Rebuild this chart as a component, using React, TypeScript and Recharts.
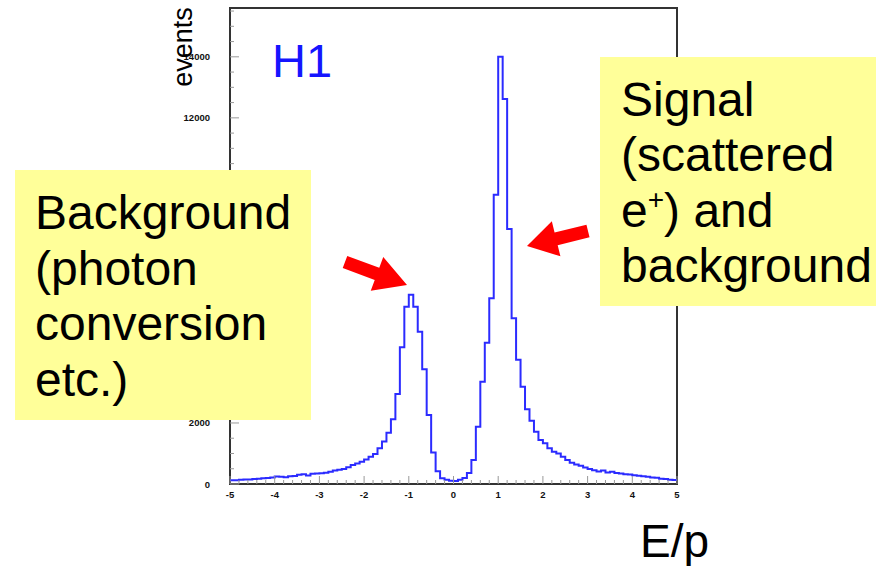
import { ComposedChart, Line, XAxis, YAxis, ReferenceArea } from 'recharts';

// E/p histogram, 100 bins of 0.1 from -5 to 5
const binStart = -5;
const binWidth = 0.1;

const leftTail = [
  120, 125, 140, 145, 150, 165, 175, 190, 200, 210,
  245, 240, 220, 255, 265, 300, 320, 280, 340, 345,
  350, 365, 400, 440, 470, 490, 545, 620, 670, 730,
];
const leftPeak = [
  800, 895, 985, 1170, 1390, 1680, 2120, 2950, 4480, 5810,
  6200, 5810, 4990, 3760, 2260, 1030, 420, 190, 140, 110,
];
const rightPeak = [
  100, 140, 200, 360, 790, 1880, 3350, 4630, 6090, 9480,
  14000, 12620, 8360, 5430, 4070, 3190, 2450, 2075, 1715, 1445,
];
const rightTail = [
  1335, 1170, 1060, 1000, 895, 787, 700, 640, 600, 540,
  490, 450, 410, 440, 380, 400, 360, 345, 320, 310,
  285, 270, 250, 240, 215, 205, 175, 160, 140, 130,
];

const xTicks = Array.from({ length: 51 }, (_, i) => Math.round((-5 + i * 0.2) * 10) / 10);
const yTicks = Array.from({ length: 32 }, (_, i) => i * 500);
// only these y labels are visible; the others sit behind the yellow box
const yLabels = [0, 2000, 12000, 14000];

const counts = [...leftTail, ...leftPeak, ...rightPeak, ...rightTail];
const data = counts.map((count, i) => ({
  x: Math.round((binStart + i * binWidth) * 10) / 10,
  count,
}));
data.push({ x: 5, count: counts[counts.length - 1] });

const tickFont = "'Liberation Sans Narrow', 'Liberation Sans', Arial, sans-serif";
const mainFont = "'Liberation Sans', Arial, Helvetica, sans-serif";

function XTick(props: any) {
  const { x, y, payload } = props;
  const axisY = y - 10;
  const major = Number.isInteger(payload.value);
  return (
    <g>
      <line x1={x} x2={x} y1={axisY} y2={axisY - (major ? 8 : 4)} stroke="#999" strokeWidth={1} />
      {major && (
        <text x={x} y={axisY + 14} textAnchor="middle" fontSize={9.5} fontWeight="bold" fontFamily={tickFont} fill="#111">
          {payload.value}
        </text>
      )}
    </g>
  );
}

function YTick(props: any) {
  const { x, y, payload } = props;
  const axisX = x + 10;
  const major = payload.value % 2000 === 0;
  return (
    <g>
      <line x1={axisX} x2={axisX + (major ? 9 : 4)} y1={y} y2={y} stroke="#999" strokeWidth={1} />
      {yLabels.includes(payload.value) && (
        <text x={axisX - 20} y={y + 3.5} textAnchor="end" fontSize={9.5} fontWeight="bold" fontFamily={tickFont} fill="#111">
          {payload.value}
        </text>
      )}
    </g>
  );
}

type Pt = [number, number];

function arrowPoints(tail: Pt, tip: Pt, shaftW: number, headL: number, headW: number) {
  const dx = tip[0] - tail[0];
  const dy = tip[1] - tail[1];
  const len = Math.hypot(dx, dy);
  const ux = dx / len;
  const uy = dy / len;
  const nx = -uy;
  const ny = ux;
  const bx = tip[0] - ux * headL;
  const by = tip[1] - uy * headL;
  const pts: Pt[] = [
    [tail[0] + (nx * shaftW) / 2, tail[1] + (ny * shaftW) / 2],
    [bx + (nx * shaftW) / 2, by + (ny * shaftW) / 2],
    [bx + (nx * headW) / 2, by + (ny * headW) / 2],
    tip,
    [bx - (nx * headW) / 2, by - (ny * headW) / 2],
    [bx - (nx * shaftW) / 2, by - (ny * shaftW) / 2],
    [tail[0] - (nx * shaftW) / 2, tail[1] - (ny * shaftW) / 2],
  ];
  return pts.map((p) => p.join(',')).join(' ');
}

export default function App() {
  return (
    <div style={{ position: 'absolute', left: 0, top: 0, width: 890, height: 566, background: '#fff' }}>
      <ComposedChart
        width={890}
        height={566}
        data={data}
        margin={{ top: 8, right: 213, bottom: 52, left: 170 }}
      >
        <XAxis
          type="number"
          dataKey="x"
          domain={[-5, 5]}
          ticks={xTicks}
          interval={0}
          height={30}
          tickSize={0}
          tickMargin={10}
          tickLine={false}
          axisLine={false}
          tick={<XTick />}
        />
        <YAxis
          type="number"
          domain={[0, 15600]}
          ticks={yTicks}
          interval={0}
          width={60}
          tickSize={0}
          tickMargin={10}
          tickLine={false}
          axisLine={false}
          tick={<YTick />}
        />
        <ReferenceArea x1={-5} x2={5} y1={0} y2={15600} fill="none" stroke="#333" strokeWidth={2} />
        <Line
          type="stepAfter"
          dataKey="count"
          stroke="#2b2bff"
          strokeWidth={2}
          dot={false}
          isAnimationActive={false}
        />
      </ComposedChart>

      <svg
        width={890}
        height={566}
        style={{ position: 'absolute', left: 0, top: 0, pointerEvents: 'none' }}
        fontFamily={mainFont}
      >
        <text transform="translate(192, 47) rotate(-90)" textAnchor="middle" fontSize={27} fill="#000">
          events
        </text>
        <text x={272} y={77} fontSize={47} fill="#1515ff">H1</text>

        <rect x={15} y={170} width={296} height={250} fill="#ffff99" />
        <text fontSize={48} fill="#000">
          <tspan x={35} y={229}>Background</tspan>
          <tspan x={35} y={285}>(photon</tspan>
          <tspan x={35} y={340}>conversion</tspan>
          <tspan x={35} y={396}>etc.)</tspan>
        </text>

        <rect x={600} y={57} width={276} height={249} fill="#ffff99" />
        <text fontSize={48} fill="#000">
          <tspan x={621} y={116}>Signal</tspan>
          <tspan x={621} y={171}>(scattered</tspan>
          <tspan x={621} y={227}>e</tspan>
          <tspan dy={-18} fontSize={28}>+</tspan>
          <tspan dy={18}>) and</tspan>
          <tspan x={621} y={282}>background</tspan>
        </text>

        <polygon points={arrowPoints([345, 262], [407, 285], 13, 32, 36)} fill="#ff0000" />
        <polygon points={arrowPoints([588, 231], [527, 246], 13, 30, 36)} fill="#ff0000" />

        <text x={640} y={557} fontSize={46} fill="#000">E/p</text>
      </svg>
    </div>
  );
}
